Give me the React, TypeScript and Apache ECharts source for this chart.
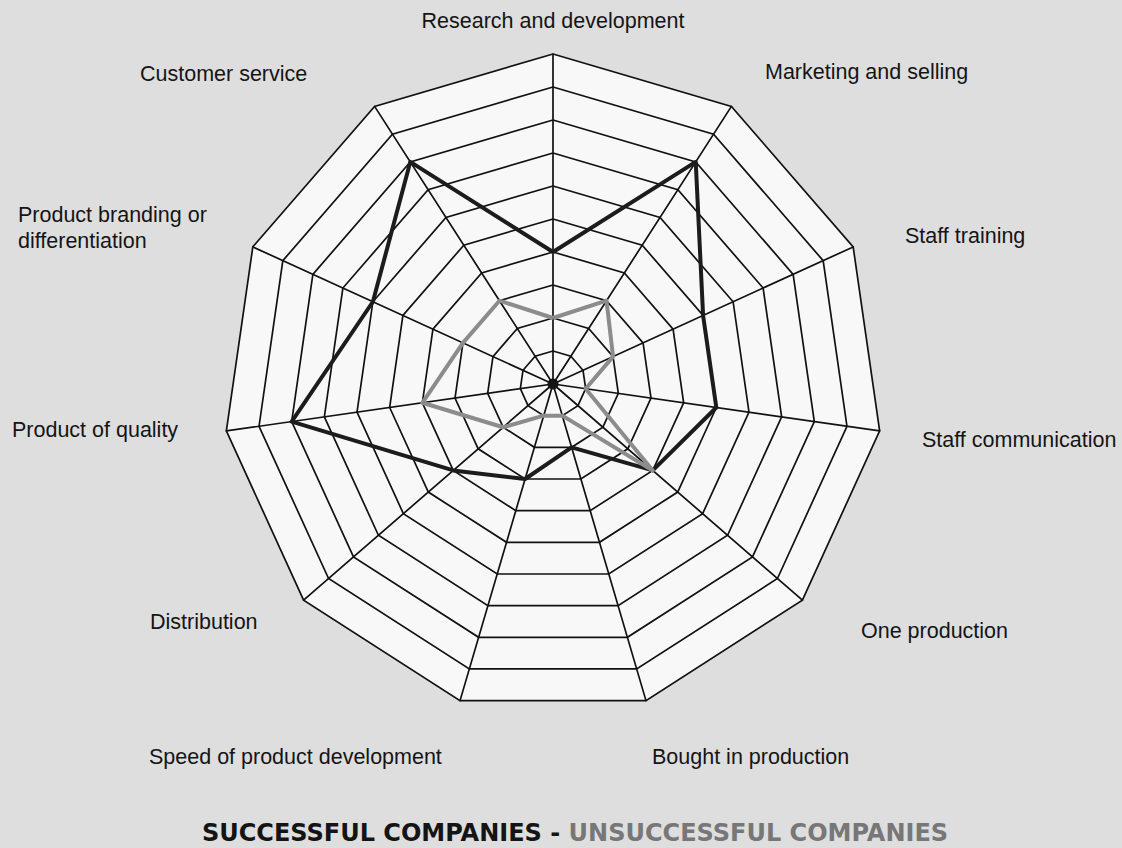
import React, { useEffect, useRef } from "react";
import * as echarts from "echarts";

// Categories listed clockwise, starting at the top
const categories = [
  "Research and development",
  "Marketing and selling",
  "Staff training",
  "Staff communication",
  "One production",
  "Bought in production",
  "Speed of product development",
  "Distribution",
  "Product of quality",
  "Product branding or\ndifferentiation",
  "Customer service",
];
const successful = [4, 8, 5, 5, 4, 2, 3, 4, 8, 6, 8];
const unsuccessful = [2, 3, 2, 1, 4, 1, 1, 2, 4, 3, 3];
const maxValue = 10;
const ringCount = 10;

// label layout (positions only)
const labelLayout: { x: number; y: number; align: string }[] = [
  { x: 553, y: 21, align: "center" },
  { x: 765, y: 72, align: "left" },
  { x: 905, y: 236, align: "left" },
  { x: 922, y: 440, align: "left" },
  { x: 861, y: 631, align: "left" },
  { x: 652, y: 757, align: "left" },
  { x: 149, y: 757, align: "left" },
  { x: 150, y: 622, align: "left" },
  { x: 12, y: 430, align: "left" },
  { x: 18, y: 228, align: "left" },
  { x: 140, y: 74, align: "left" },
];

const CENTER: [number, number] = [553, 384];
const RADIUS = 330;

export default function App() {
  const ref = useRef<HTMLDivElement>(null);
  useEffect(() => {
    if (!ref.current) return;
    const chart = echarts.init(ref.current, null, { renderer: "svg" });
    // ECharts lays radar indicators counter-clockwise; reorder so the picture reads clockwise
    const order = [0, ...Array.from({ length: categories.length - 1 }, (_, k) => categories.length - 1 - k)];
    const pick = (arr: number[]) => order.map((i) => arr[i]);

    const labels = categories.map((name, i) => ({
      type: "text",
      x: labelLayout[i].x,
      y: labelLayout[i].y,
      silent: true,
      style: {
        text: name,
        fill: "#151515",
        font: '21.5px "Liberation Sans", Arial, sans-serif',
        textAlign: labelLayout[i].align,
        textVerticalAlign: "middle",
        lineHeight: 26,
      },
    }));

    chart.setOption({
      animation: false,
      backgroundColor: "#dedede",
      title: {
        text: "{a|SUCCESSFUL COMPANIES - }{b|UNSUCCESSFUL COMPANIES}",
        left: 575,
        textAlign: "center",
        top: 819,
        padding: 0,
        textStyle: {
          rich: {
            a: { color: "#141414", fontFamily: '"DejaVu Sans", sans-serif', fontWeight: "bold", fontSize: 24, lineHeight: 27 },
            b: { color: "#777777", fontFamily: '"DejaVu Sans", sans-serif', fontWeight: "bold", fontSize: 24, lineHeight: 27 },
          },
        },
      },
      radar: {
        center: CENTER,
        radius: RADIUS,
        startAngle: 90,
        splitNumber: ringCount,
        shape: "polygon",
        indicator: order.map((i) => ({ name: categories[i], min: 0, max: maxValue })),
        axisName: { show: false },
        axisLine: { lineStyle: { color: "#111", width: 1.7 } },
        splitLine: { lineStyle: { color: "#111", width: 1.7 } },
        splitArea: { show: true, areaStyle: { color: ["#f8f8f8"] } },
        axisTick: { show: false },
        axisLabel: { show: false },
      },
      series: [
        {
          type: "radar",
          symbol: "none",
          data: [
            {
              name: "Successful companies",
              value: pick(successful),
              lineStyle: { color: "#1c1c1c", width: 4 },
            },
            {
              name: "Unsuccessful companies",
              value: pick(unsuccessful),
              lineStyle: { color: "#8c8c8c", width: 4 },
            },
          ],
        },
      ],
      graphic: [
        ...labels,
        {
          type: "circle",
          shape: { cx: CENTER[0], cy: CENTER[1], r: 5.5 },
          style: { fill: "#151515" },
          z: 100,
          silent: true,
        },
      ],
    });
    return () => chart.dispose();
  }, []);
  return (
    <div
      ref={ref}
      style={{ position: "absolute", left: 0, top: 0, width: 1122, height: 848 }}
    />
  );
}
